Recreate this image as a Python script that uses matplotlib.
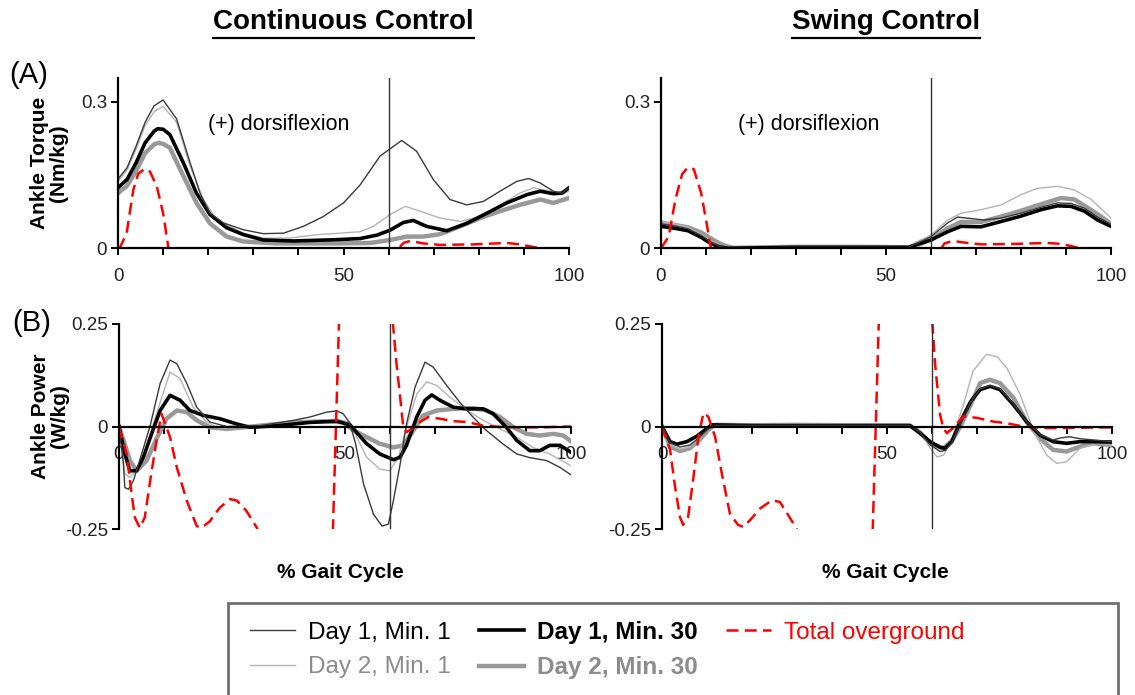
import numpy as np
import matplotlib
matplotlib.use("Agg")
import matplotlib.pyplot as plt
from matplotlib.lines import Line2D
from matplotlib.patches import Rectangle

plt.rcParams["font.family"] = ["Liberation Sans", "DejaVu Sans"]
plt.rcParams["axes.unicode_minus"] = False

nan = np.nan
toe_off = 60  # % gait cycle where swing starts

# ---------------- ankle torque, continuous control ----------------
tqc_d1m1_x = [0, 2, 4, 6, 8, 10, 13, 16, 18.2, 20.4, 23.4, 27.8, 32.2, 36.7, 41.1, 45.5, 50, 53.7,
              58.1, 62.9, 66.2, 69.9, 73.6, 77.3, 81, 84.7, 88.4, 91, 93.6, 96.5, 98.4, 100]
tqc_d1m1 = [0.142, 0.165, 0.209, 0.258, 0.292, 0.304, 0.265, 0.175, 0.113, 0.072, 0.052, 0.038, 0.030,
            0.031, 0.045, 0.065, 0.093, 0.130, 0.189, 0.221, 0.199, 0.141, 0.100, 0.089, 0.096, 0.117,
            0.137, 0.143, 0.134, 0.117, 0.113, 0.124]
tqc_d1m30_x = [0, 2, 4, 6, 8, 8.8, 10, 11.5, 14.5, 17.4, 20.4, 24.1, 27.8, 32.2, 38.9, 46.3, 49.2,
               53.7, 57.4, 60.3, 63.3, 65.5, 68.4, 72.9, 77.3, 81.8, 86.2, 90.7, 93.6, 96.5, 98.4, 100]
tqc_d1m30 = [0.124, 0.141, 0.175, 0.216, 0.240, 0.245, 0.244, 0.233, 0.175, 0.113, 0.069, 0.042,
             0.028, 0.017, 0.015, 0.017, 0.018, 0.020, 0.027, 0.037, 0.053, 0.057, 0.045, 0.036,
             0.051, 0.072, 0.093, 0.110, 0.117, 0.112, 0.113, 0.124]
tqc_d2m1_x = [0, 2, 4, 6, 8, 10, 13, 16, 18.9, 21.9, 27.8, 32.2, 38, 44.3, 49.2, 53.7, 56.6, 60.3,
              63.7, 67, 71.4, 75.9, 80.3, 84.7, 89.1, 92.1, 95.8, 98.4, 100]
tqc_d2m1 = [0.137, 0.160, 0.203, 0.251, 0.280, 0.291, 0.258, 0.168, 0.100, 0.058, 0.031, 0.021,
            0.021, 0.028, 0.031, 0.034, 0.045, 0.069, 0.086, 0.076, 0.062, 0.055, 0.065, 0.089,
            0.113, 0.124, 0.117, 0.110, 0.117]
tqc_d2m30_x = [0, 2, 4, 6, 8, 9, 10, 11.5, 14.5, 17.4, 20.4, 24.1, 27.8, 35, 49.2, 56, 60.3, 64,
               67.7, 71.4, 75.9, 80.3, 84.7, 89.1, 93.6, 96.5, 100]
tqc_d2m30 = [0.113, 0.128, 0.158, 0.195, 0.213, 0.216, 0.214, 0.206, 0.148, 0.093, 0.051, 0.024,
             0.014, 0.010, 0.010, 0.011, 0.017, 0.024, 0.024, 0.029, 0.045, 0.062, 0.076, 0.089,
             0.100, 0.093, 0.103]
tqc_over_x = [0, 0.5, 1.9, 3.4, 4.5, 6.0, 7.1, 8.6, 10, 11.2, 11.5, 62.5, 63.3, 64.8, 67.7, 71.4,
              78.8, 86.2, 89.1, 93.6, 100]
tqc_over = [0, 0.003, 0.03, 0.12, 0.153, 0.163, 0.157, 0.127, 0.072, 0.0, nan, 0.003, 0.011, 0.015,
            0.010, 0.007, 0.008, 0.011, 0.008, 0.0, 0.0]

# ---------------- ankle torque, swing control ----------------
tqs_d1m1_x = [0, 3, 6, 9, 11, 13, 15, 30, 45, 55, 56.3, 60, 63.7, 65.9, 68.9, 71.8, 75.6, 80, 84.4,
              88.1, 91.1, 94.1, 97, 100]
tqs_d1m1 = [0.050, 0.046, 0.040, 0.026, 0.013, 0.004, 0.0, 0.002, 0.002, 0.002, 0.008, 0.024, 0.052,
            0.064, 0.061, 0.058, 0.062, 0.072, 0.084, 0.093, 0.092, 0.082, 0.064, 0.049]
tqs_d1m30_x = [0, 3, 6, 9, 11, 13, 15, 30, 45, 55, 56.3, 60, 63.7, 66.7, 71.1, 75.6, 80, 84.4, 88.1,
               91.1, 94.1, 97, 100]
tqs_d1m30 = [0.045, 0.041, 0.036, 0.022, 0.010, 0.003, 0.0, 0.002, 0.002, 0.002, 0.006, 0.017, 0.034,
             0.045, 0.044, 0.055, 0.066, 0.079, 0.087, 0.086, 0.076, 0.058, 0.045]
tqs_d2m1_x = [0, 3, 6, 9, 11, 14, 16, 30, 45, 55, 56.3, 60, 63.7, 66.7, 71.1, 75.6, 80, 83.7, 88.1,
              91.8, 95.6, 98.5, 100]
tqs_d2m1 = [0.055, 0.050, 0.043, 0.028, 0.015, 0.003, 0.0, 0.002, 0.002, 0.002, 0.011, 0.027, 0.058,
            0.072, 0.079, 0.089, 0.110, 0.123, 0.127, 0.120, 0.100, 0.075, 0.062]
tqs_d2m30_x = [0, 3, 6, 9, 12, 14, 16, 30, 45, 55, 58, 60, 63.7, 66.7, 71.1, 75.6, 80, 84.4, 88.9,
               91.9, 94.8, 97.8, 100]
tqs_d2m30 = [0.053, 0.048, 0.043, 0.032, 0.015, 0.006, 0.001, 0.003, 0.003, 0.002, 0.010, 0.018,
             0.041, 0.054, 0.054, 0.065, 0.077, 0.090, 0.103, 0.100, 0.083, 0.065, 0.050]
tqs_over_x = [0, 1.7, 3.2, 4.7, 6, 7.3, 8.9, 10, 11.1, 11.5, 62.3, 63, 64.8, 68.1, 71.1, 78.5, 85.9,
              88.9, 93.3, 100]
tqs_over = [0, 0.024, 0.10, 0.152, 0.166, 0.162, 0.114, 0.059, 0, nan, 0, 0.010, 0.015, 0.011, 0.008,
            0.009, 0.011, 0.009, 0, 0]

# ---------------- ankle power, continuous control ----------------
pwc_d1m1_x = [0, 0.96, 1.3, 2.1, 3.2, 5, 6.9, 9.1, 11.3, 12.8, 15, 17.2, 20.1, 23.8, 31.2, 38.6,
              42.2, 45.9, 48.2, 49.6, 51, 52.3, 54.1, 56.3, 58.2, 59.6, 60.7, 62.2, 63.6, 65.5, 67.7,
              69.5, 72.5, 75.4, 78.4, 81.3, 85, 88, 90.9, 94.6, 97.6, 100]
pwc_d1m1 = [0, -0.09, -0.149, -0.153, -0.132, -0.067, 0.002, 0.105, 0.162, 0.153, 0.105, 0.047,
            0.011, 0.0, 0.002, 0.015, 0.023, 0.035, 0.038, 0.031, 0.010, -0.040, -0.140, -0.214,
            -0.243, -0.238, -0.181, -0.092, 0.006, 0.096, 0.157, 0.145, 0.100, 0.059, 0.022, -0.010,
            -0.043, -0.067, -0.076, -0.083, -0.100, -0.118]
pwc_d1m30_x = [0, 1.3, 2.4, 3.9, 5.4, 7.2, 9.1, 11.3, 13.5, 15.7, 18.7, 22.3, 26.1, 29, 34.9, 42.2,
               48.2, 51.1, 53, 54.8, 57.7, 60.7, 62.2, 63.6, 65.9, 67.7, 69.2, 71, 74, 77, 80.6, 82.8,
               85.7, 88, 90.9, 93.1, 95.3, 97.6, 100]
pwc_d1m30 = [0, -0.067, -0.108, -0.108, -0.075, -0.018, 0.039, 0.076, 0.064, 0.039, 0.027, 0.019,
             0.006, -0.002, 0.002, 0.010, 0.013, 0.004, -0.020, -0.042, -0.067, -0.081, -0.075,
             -0.046, 0.024, 0.064, 0.077, 0.064, 0.047, 0.043, 0.043, 0.031, -0.002, -0.034, -0.059,
             -0.059, -0.046, -0.046, -0.063]
pwc_d2m1_x = [0, 1.3, 2.4, 3.9, 6.1, 8.3, 11.3, 13.5, 16.4, 19.4, 22.3, 27.5, 34, 42.2, 48.2, 51.1,
              53, 54.8, 57.7, 59.9, 61.8, 63.6, 65.9, 68.1, 70.3, 73.2, 77, 80.6, 84.3, 88, 91.6,
              95.3, 100]
pwc_d2m1 = [0, -0.116, -0.124, -0.108, -0.05, 0.031, 0.133, 0.117, 0.047, 0.011, -0.005, -0.002,
            0.006, 0.013, 0.018, 0.010, -0.035, -0.075, -0.104, -0.108, -0.075, -0.002, 0.080, 0.109,
            0.100, 0.072, 0.039, 0.015, -0.006, -0.026, -0.051, -0.067, -0.096]
pwc_d2m30_x = [0, 1, 2.4, 3.9, 6.1, 8.3, 10.5, 12.8, 15, 17.2, 20.1, 23.8, 31.2, 38.6, 45.9, 49.6,
               51.8, 54.8, 57.7, 60.7, 62.9, 65.1, 67.3, 70.3, 74, 78.4, 81.3, 84.3, 87.3, 90.2, 93.1,
               96.1, 98.3, 100]
pwc_d2m30 = [0, -0.033, -0.083, -0.108, -0.083, -0.030, 0.019, 0.039, 0.035, 0.015, -0.002, -0.006,
             0.002, 0.010, 0.013, 0.010, -0.009, -0.026, -0.042, -0.051, -0.046, -0.010, 0.027,
             0.039, 0.043, 0.045, 0.039, 0.023, -0.002, -0.018, -0.022, -0.018, -0.022, -0.036]
pwc_over_x = [0, 1.7, 2.8, 3.5, 4.6, 5.7, 6.9, 8.3, 9.4, 11.3, 12.8, 15, 17.2, 18.3, 20.1, 22.3,
              24.6, 26.1, 28.2, 30.5, 32, 33, 47.2, 48.8, 49.5, 60.2, 61.4, 62.2, 62.9, 63.6, 64.7,
              66.6, 68.4, 71, 74, 77, 80.6, 85.7, 93, 100]
pwc_over = [0, -0.067, -0.165, -0.222, -0.247, -0.222, -0.132, -0.035, 0.031, -0.026, -0.1, -0.181,
            -0.243, -0.247, -0.231, -0.198, -0.177, -0.181, -0.206, -0.247, -0.30, nan, -0.30, 0.30,
            nan, 0.30, 0.153, 0.072, -0.002, -0.014, -0.006, 0.011, 0.023, 0.019, 0.013, 0.011,
            0.002, -0.002, -0.002, 0.0]

# ---------------- ankle power, swing control ----------------
pws_d1m1_x = [0, 1.8, 4, 6.2, 8.4, 10.3, 12, 20, 30, 40, 50, 55, 57.3, 59.6, 61.8, 63, 64.4, 66.3,
              68.6, 70.7, 72.9, 75.1, 78.1, 81, 84, 86.9, 88.5, 90.5, 93, 96, 100]
pws_d1m1 = [0, -0.040, -0.050, -0.045, -0.026, -0.005, 0.003, 0.003, 0.003, 0.003, 0.003, 0.003,
            -0.014, -0.045, -0.061, -0.058, -0.040, 0.008, 0.060, 0.092, 0.100, 0.092, 0.055, 0.012,
            -0.020, -0.033, -0.028, -0.025, -0.030, -0.033, -0.037]
pws_d1m30_x = [0, 1.8, 3.3, 5.5, 7.7, 9.6, 11, 20, 30, 40, 50, 55.1, 57.3, 59.6, 61.8, 62.9, 64.4,
               66.3, 68.6, 70.7, 72.9, 75.1, 78.1, 81, 84, 86.9, 89.9, 92.9, 95.8, 100]
pws_d1m30 = [0, -0.037, -0.043, -0.037, -0.024, -0.008, 0.004, 0.002, 0.002, 0.002, 0.002, 0.002,
             -0.016, -0.037, -0.051, -0.053, -0.037, 0.012, 0.061, 0.090, 0.098, 0.090, 0.053, 0.012,
             -0.021, -0.037, -0.041, -0.037, -0.037, -0.038]
pws_d2m1_x = [0, 1.8, 4, 6.2, 8.4, 10.3, 12, 20, 30, 40, 50, 55, 57.3, 59.6, 61.1, 62.6, 64.7, 67,
              69.1, 72.1, 74.5, 76.6, 79.6, 82.6, 85.5, 87.7, 89.9, 92.9, 96.6, 100]
pws_d2m1 = [0, -0.045, -0.055, -0.05, -0.028, -0.006, 0.003, 0.003, 0.003, 0.003, 0.003, 0.003,
            -0.012, -0.053, -0.074, -0.070, -0.021, 0.053, 0.135, 0.176, 0.170, 0.143, 0.078,
            -0.012, -0.070, -0.090, -0.086, -0.053, -0.041, -0.045]
pws_d2m30_x = [0, 1.8, 4, 6.2, 8.4, 10.3, 11.8, 20, 30, 40, 50, 55, 57.3, 59.6, 62.6, 64.4, 66.3,
               68.6, 70.7, 72.9, 75.1, 78.1, 81, 84, 86.9, 89.9, 92.9, 95.8, 100]
pws_d2m30 = [0, -0.049, -0.060, -0.053, -0.032, -0.008, 0.004, 0.003, 0.004, 0.003, 0.003, 0.003,
             -0.014, -0.041, -0.053, -0.035, 0.0, 0.053, 0.106, 0.114, 0.106, 0.070, 0.012, -0.029,
             -0.057, -0.061, -0.049, -0.041, -0.045]
pws_over_x = [0, 1.8, 2.9, 4, 4.7, 5.8, 7, 8.1, 9.2, 10.3, 11.8, 13.3, 15.1, 16.9, 18.1, 19.6, 21.8,
              24.4, 26.2, 28.1, 29.9, 31.5, 32, 46.7, 48.3, 49, 59.8, 60.7, 61.8, 62.5, 63.3, 64.7,
              67, 70, 73.6, 76.6, 80.3, 85.5, 100]
pws_over = [0, -0.057, -0.147, -0.221, -0.24, -0.221, -0.123, -0.025, 0.033, 0.024, -0.025, -0.115,
            -0.213, -0.24, -0.245, -0.228, -0.2, -0.180, -0.184, -0.217, -0.249, -0.30, nan, -0.30,
            0.30, nan, 0.30, 0.151, 0.029, -0.004, -0.016, -0.004, 0.025, 0.021, 0.012, 0.008, 0.0,
            -0.004, -0.002]

labels = ["Day 1, Min. 1", "Day 1, Min. 30", "Day 2, Min. 1", "Day 2, Min. 30", "Total overground"]

# line styles
sty_d1m1 = dict(color="#3a3a3a", lw=1.0)
sty_d1m30 = dict(color="black", lw=2.6)
sty_d2m1 = dict(color="#b4b4b4", lw=1.0)
sty_d2m30 = dict(color="#999999", lw=3.2)
sty_over = dict(color="#ff0000", lw=1.8, dashes=(4.8, 2.5))

W, H = 1135, 695
fig = plt.figure(figsize=(W / 100, H / 100), dpi=100)
fig.patch.set_facecolor("white")

def px_axes(x0, x1, ytop, ybot):
    return fig.add_axes([x0 / W, 1 - ybot / H, (x1 - x0) / W, (ybot - ytop) / H])

ax_tl = px_axes(118, 569, 77.5, 248.3)
ax_tr = px_axes(661, 1111, 77.5, 248.3)
ax_bl = px_axes(119, 571, 324, 529)
ax_br = px_axes(662, 1112, 324, 529)

def draw(ax, series):
    handles = []
    for (xs, ys), sty, lab in zip(series, [sty_d2m30, sty_d2m1, sty_d1m30, sty_d1m1, sty_over],
                                  [labels[3], labels[2], labels[1], labels[0], labels[4]]):
        h, = ax.plot(xs, ys, label=lab, **sty)
        handles.append(h)
    ax.axvline(toe_off, color="#333333", lw=1.0)
    return handles

def style(ax, bottom):
    ax.set_xlim(0, 100)
    for s in ["top", "right"]:
        ax.spines[s].set_visible(False)
    for s in ["left", "bottom"]:
        ax.spines[s].set_linewidth(1.6)
        ax.spines[s].set_color("black")
    ax.set_xticks(range(0, 101, 10))
    ax.set_xticklabels(["0", "", "", "", "", "50", "", "", "", "", "100"])
    ax.tick_params(axis="both", direction="out", length=5, width=1.4, labelsize=13.5,
                   colors="black", labelcolor="#222222")
    ax.tick_params(axis="x", pad=9)
    ax.tick_params(axis="y", pad=3)
    ax.set_axisbelow(True)
    if bottom:
        ax.set_ylim(-0.25, 0.25)
        ax.set_yticks([-0.25, 0, 0.25])
        ax.set_yticklabels(["-0.25", "0", "0.25"])
        ax.spines["bottom"].set_position(("data", 0))
    else:
        ax.set_ylim(0, 0.35)
        ax.set_yticks([0, 0.3])
        ax.set_yticklabels(["0", "0.3"])
    ax.patch.set_alpha(0)

h = draw(ax_tl, [(tqc_d2m30_x, tqc_d2m30), (tqc_d2m1_x, tqc_d2m1), (tqc_d1m30_x, tqc_d1m30),
                 (tqc_d1m1_x, tqc_d1m1), (tqc_over_x, tqc_over)])
draw(ax_tr, [(tqs_d2m30_x, tqs_d2m30), (tqs_d2m1_x, tqs_d2m1), (tqs_d1m30_x, tqs_d1m30),
             (tqs_d1m1_x, tqs_d1m1), (tqs_over_x, tqs_over)])
draw(ax_bl, [(pwc_d2m30_x, pwc_d2m30), (pwc_d2m1_x, pwc_d2m1), (pwc_d1m30_x, pwc_d1m30),
             (pwc_d1m1_x, pwc_d1m1), (pwc_over_x, pwc_over)])
draw(ax_br, [(pws_d2m30_x, pws_d2m30), (pws_d2m1_x, pws_d2m1), (pws_d1m30_x, pws_d1m30),
             (pws_d1m1_x, pws_d1m1), (pws_over_x, pws_over)])

for ax in (ax_tl, ax_tr):
    style(ax, False)
for ax in (ax_bl, ax_br):
    style(ax, True)

ax_tl.text(20, 0.254, "(+) dorsiflexion", fontsize=15.5, va="center")
ax_tr.text(17, 0.254, "(+) dorsiflexion", fontsize=15.5, va="center")

ax_tl.set_ylabel("Ankle Torque\n(Nm/kg)", fontsize=15, fontweight="bold", linespacing=1.0)
ax_tl.yaxis.set_label_coords(-0.111, 0.5)
ax_bl.set_ylabel("Ankle Power\n(W/kg)", fontsize=15, fontweight="bold", linespacing=1.0)
ax_bl.yaxis.set_label_coords(-0.111, 0.55)

fig.text(9 / W, 1 - 75 / H, "(A)", fontsize=21, va="center")
fig.text(12 / W, 1 - 323 / H, "(B)", fontsize=21, va="center")
fig.text(340 / W, 1 - 573 / H, "% Gait Cycle", fontsize=15, fontweight="bold", ha="center", va="center")
fig.text(885 / W, 1 - 572 / H, "% Gait Cycle", fontsize=15, fontweight="bold", ha="center", va="center")

# underlined column titles
titles = [fig.text(343.5 / W, 1 - 22 / H, "Continuous Control", fontsize=20, fontweight="bold",
                   ha="center", va="center"),
          fig.text(886 / W, 1 - 22 / H, "Swing Control", fontsize=20, fontweight="bold",
                   ha="center", va="center")]
fig.canvas.draw()
r = fig.canvas.get_renderer()
for t in titles:
    bb = t.get_window_extent(renderer=r)
    fig.add_artist(Line2D([bb.x0 / W, bb.x1 / W], [1 - 37.5 / H, 1 - 37.5 / H], color="black",
                          lw=1.6, transform=fig.transFigure))

# legend box runs off the bottom edge
fig.add_artist(Rectangle((228 / W, -0.05), (1118 - 228) / W, 0.05 + 1 - 603 / H, fill=False,
                         edgecolor="#707070", lw=2, transform=fig.transFigure))
order = [h[3], h[1], h[2], h[0], h[4]]
leg = fig.legend(order, [l.get_label() for l in order], loc="upper left",
                 bbox_to_anchor=(250 / W, 1 - 621 / H), ncol=3, frameon=False, fontsize=17.5,
                 handlelength=1.85, handletextpad=0.55, columnspacing=1.15, labelspacing=0.5,
                 borderpad=0, borderaxespad=0)
for txt in leg.get_texts():
    lab = txt.get_text()
    if lab.startswith("Day 2"):
        txt.set_color("#8c8c8c")
    elif lab.startswith("Total"):
        txt.set_color("#ff0000")
    if lab.endswith("30"):
        txt.set_fontweight("bold")

fig.savefig("out.png", dpi=100, facecolor="white")
